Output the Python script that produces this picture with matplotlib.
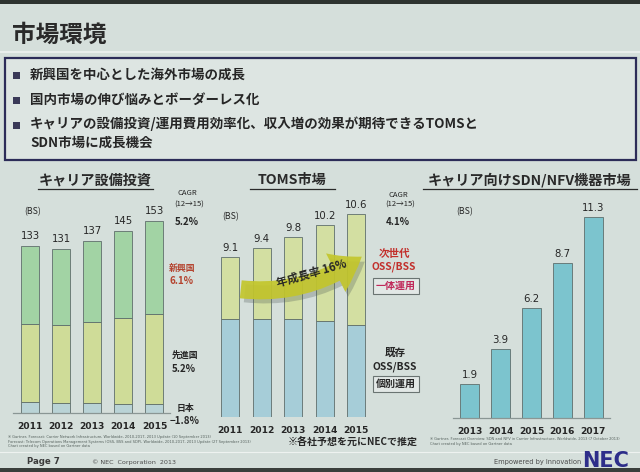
import matplotlib
matplotlib.use("Agg")
import matplotlib.pyplot as plt
from matplotlib.patches import Rectangle, FancyArrowPatch
import numpy as np

plt.rcParams['font.family'] = ['Noto Sans CJK JP', 'DejaVu Sans']

# ---------------- data ----------------
capex_years = ["2011", "2012", "2013", "2014", "2015"]
capex_total = [133, 131, 137, 145, 153]
capex_japan = [8.5, 8.2, 7.7, 7.2, 6.9]
capex_developed = [62.2, 61.6, 64.5, 68.3, 71.7]
capex_emerging = [62.3, 61.2, 64.8, 69.5, 74.4]

toms_years = ["2011", "2012", "2013", "2014", "2015"]
toms_total = [9.1, 9.4, 9.8, 10.2, 10.6]
toms_existing = [6.9, 6.9, 6.9, 6.85, 6.7]
toms_nextgen = [2.2, 2.5, 2.9, 3.35, 3.9]

sdn_years = ["2013", "2014", "2015", "2016", "2017"]
sdn_values = [1.9, 3.9, 6.2, 8.7, 11.3]

bullets = ["新興国を中心とした海外市場の成長",
           "国内市場の伸び悩みとボーダーレス化",
           "キャリアの設備投資/運用費用効率化、収入増の効果が期待できるTOMSと\nSDN市場に成長機会"]

# ---------------- style ----------------
BG = "#d5dfdb"
TXT = "#262626"
EDGE = "#5f6e6c"
W, H = 640, 472

fig = plt.figure(figsize=(6.4, 4.72), dpi=100, facecolor=BG)

def fx(px):
    return px / W

def fy(py):
    return 1 - py / H

def rect(x0, x1, ytop, ybot):
    return [fx(x0), fy(ybot), (x1 - x0) / W, (ybot - ytop) / H]

def ftext(px, py, s, **kw):
    kw.setdefault("color", TXT)
    kw.setdefault("ha", "center")
    kw.setdefault("va", "center")
    return fig.text(fx(px), fy(py), s, **kw)

# photo edges
fig.patches.append(Rectangle((0, fy(4)), 1, 4 / H, transform=fig.transFigure,
                             facecolor="#2e3330", edgecolor="none", zorder=0))
fig.patches.append(Rectangle((0, 0), 1, 4 / H, transform=fig.transFigure,
                             facecolor="#3a3f3c", edgecolor="none", zorder=0))

# title
ftext(12, 35, "市場環境", ha="left", fontsize=17, fontweight="bold", color="#2a2a2a")
fig.add_artist(plt.Line2D([0, 1], [fy(52), fy(52)], color="#eef2f0", lw=1.2,
                          transform=fig.transFigure))

# bullet box
fig.patches.append(Rectangle((fx(5), fy(160)), fx(636) - fx(5), (160 - 58) / H,
                             transform=fig.transFigure, facecolor="#dde5e2",
                             edgecolor="#2c2c58", lw=1.6, zorder=1))
bullet_y = [75, 100, 125]
for yb, s in zip(bullet_y, bullets):
    fig.patches.append(Rectangle((fx(13), fy(yb + 3.5)), 7 / W, 7 / H,
                                 transform=fig.transFigure, facecolor="#3a3a58",
                                 edgecolor="none", zorder=2))
    if "\n" in s:
        ftext(30, yb - 9, s, ha="left", va="top", fontsize=9.7, fontweight="bold",
              linespacing=1.45, zorder=3)
    else:
        ftext(30, yb, s, ha="left", fontsize=9.7, fontweight="bold", zorder=3)

# ---------------- chart 1: carrier capex ----------------
ax1 = fig.add_axes(rect(13, 170, 200, 413))
x = np.arange(len(capex_years))
bw = 0.58
ax1.bar(x, capex_japan, bw, color="#b9d3d6", edgecolor=EDGE, lw=0.6)
ax1.bar(x, capex_developed, bw, bottom=capex_japan, color="#cfdc98", edgecolor=EDGE, lw=0.6)
b1 = np.array(capex_japan) + np.array(capex_developed)
ax1.bar(x, capex_emerging, bw, bottom=b1, color="#a2d3a4", edgecolor=EDGE, lw=0.6)
for i, v in enumerate(capex_total):
    ax1.annotate(str(v), (i, v), xytext=(0, 7), textcoords="offset points",
                 ha="center", va="center", fontsize=7.3, color=TXT,
                 family="DejaVu Sans")
ax1.set_xlim(-0.55, 4.5)
ax1.set_ylim(0, 213 / 1.255)

# ---------------- chart 2: TOMS ----------------
ax2 = fig.add_axes(rect(213, 372, 200, 417.3))
x2 = np.arange(len(toms_years))
ax2.bar(x2, toms_existing, bw, color="#a6cdd8", edgecolor=EDGE, lw=0.6)
ax2.bar(x2, toms_nextgen, bw, bottom=toms_existing, color="#d3dfa2", edgecolor=EDGE, lw=0.6)
for i, v in enumerate(toms_total):
    ax2.annotate(f"{v:.1f}", (i, v), xytext=(0, 6.5), textcoords="offset points",
                 ha="center", va="center", fontsize=7.3, color=TXT,
                 family="DejaVu Sans")
ax2.set_xlim(-0.55, 4.5)
ax2.set_ylim(3.46, 3.46 + 217.3 / 28.5)

# ---------------- chart 3: SDN/NFV ----------------
ax3 = fig.add_axes(rect(453, 610, 200, 418.3))
x3 = np.arange(len(sdn_years))
ax3.bar(x3, sdn_values, 0.62, color="#7cc4ce", edgecolor=EDGE, lw=0.6)
for i, v in enumerate(sdn_values):
    ax3.annotate(f"{v:.1f}", (i, v), xytext=(0, 6.5), textcoords="offset points",
                 ha="center", va="center", fontsize=7.3, color=TXT,
                 family="DejaVu Sans")
ax3.set_xlim(-0.55, 4.55)
ax3.set_ylim(0, 218.3 / 17.8)

for ax, yrs, base_line in ((ax1, capex_years, True), (ax2, toms_years, False), (ax3, sdn_years, True)):
    ax.set_facecolor("none")
    for s in ax.spines.values():
        s.set_visible(False)
    ax.set_yticks([])
    ax.set_xticks([])
    if base_line:
        ax.axhline(ax.get_ylim()[0], color="#8a9694", lw=0.9, clip_on=False)
    for i, yl in enumerate(yrs):
        ax.annotate(yl, (i, 0), xycoords=("data", "axes fraction"), xytext=(0, -9.5),
                    textcoords="offset points", ha="center", va="center",
                    fontsize=6.6, fontweight="bold", color=TXT, family="DejaVu Sans")

# growth arrow on chart 2
shadow = FancyArrowPatch((fx(242), fy(293)), (fx(367), fy(260)), transform=fig.transFigure,
                         arrowstyle="simple,head_width=31,head_length=22,tail_width=13",
                         connectionstyle="arc3,rad=0.2", mutation_scale=1,
                         facecolor="#55605a", edgecolor="none", alpha=0.3, zorder=5)
fig.patches.append(shadow)
arrow = FancyArrowPatch((fx(238), fy(289)), (fx(364), fy(255)), transform=fig.transFigure,
                        arrowstyle="simple,head_width=31,head_length=22,tail_width=13",
                        connectionstyle="arc3,rad=0.2", mutation_scale=1,
                        facecolor="#c3c62c", edgecolor="none", alpha=0.92, zorder=6)
fig.patches.append(arrow)
ftext(312, 273, "年成長率 16%", fontsize=8.2, fontweight="bold", rotation=16, zorder=7)

# chart titles
for (cx, cy, s, x0, x1) in ((95, 181, "キャリア設備投資", 38, 153),
                            (292, 180, "TOMS市場", 250, 335),
                            (530, 180, "キャリア向けSDN/NFV機器市場", 423, 637)):
    ftext(cx, cy, s, fontsize=10.2, fontweight="bold", color="#2a2a2a")
    fig.add_artist(plt.Line2D([fx(x0), fx(x1)], [fy(189), fy(189)], color="#2a2a2a",
                              lw=0.9, transform=fig.transFigure))

# units
ftext(33, 212, "(BS)", fontsize=6.3)
ftext(231, 217, "(BS)", fontsize=6.3)
ftext(465, 212, "(BS)", fontsize=6.3)

# chart 1 side labels
ftext(187, 193, "CAGR", fontsize=5.5)
ftext(189, 205, "(12→15)", fontsize=5.5)
ftext(187, 222, "5.2%", fontsize=7, fontweight="bold")
ftext(182, 268, "新興国", fontsize=6.4, fontweight="bold", color="#b4432e")
ftext(182, 281, "6.1%", fontsize=7, fontweight="bold", color="#b4432e")
ftext(185, 355, "先進国", fontsize=6.4, fontweight="bold")
ftext(184, 369, "5.2%", fontsize=7, fontweight="bold")
ftext(186, 408, "日本", fontsize=6.4, fontweight="bold")
ftext(185, 421, "\u22121.8%", fontsize=7, fontweight="bold")

# chart 2 side labels
ftext(398, 195, "CAGR", fontsize=5.5)
ftext(400, 205, "(12→15)", fontsize=5.5)
ftext(398, 222, "4.1%", fontsize=7, fontweight="bold")
ftext(394, 254, "次世代", fontsize=7.6, fontweight="bold", color="#c2302c")
ftext(394, 267, "OSS/BSS", fontsize=7.4, fontweight="bold", color="#c2302c")
ftext(396, 286, "一体運用", fontsize=7.2, fontweight="bold", color="#c0285a",
      bbox=dict(boxstyle="square,pad=0.3", facecolor="#e2e8e6", edgecolor="#6a7472", lw=0.8))
ftext(395, 353, "既存", fontsize=7.6, fontweight="bold")
ftext(395, 367, "OSS/BSS", fontsize=7.4, fontweight="bold")
ftext(396, 384, "個別運用", fontsize=7.2, fontweight="bold",
      bbox=dict(boxstyle="square,pad=0.3", facecolor="#e2e8e6", edgecolor="#6a7472", lw=0.8))

# footnotes
ftext(8, 435, "※ Gartner, Forecast: Carrier Network Infrastructure, Worldwide, 2010-2017, 2013 Update (10 September 2013)\n"
      "Forecast: Telecom Operations Management Systems (OSS, BSS and SDP), Worldwide, 2010-2017, 2013 Update (27 September 2013)\n"
      "Chart created by NEC based on Gartner data", ha="left", va="top", fontsize=2.6, color="#55605c",
      family="DejaVu Sans", linespacing=1.2)
ftext(353, 442, "※各社予想を元にNECで推定", fontsize=7.2, fontweight="bold")
ftext(430, 437, "※ Gartner, Forecast Overview: SDN and NFV in Carrier Infrastructure, Worldwide, 2013 (7 October 2013)\n"
      "Chart created by NEC based on Gartner data", ha="left", va="top", fontsize=2.6, color="#55605c",
      family="DejaVu Sans", linespacing=1.2)

# footer
fig.add_artist(plt.Line2D([0, 1], [fy(452), fy(452)], color="#eef2f0", lw=0.8,
                          transform=fig.transFigure))
ftext(27, 462, "Page 7", ha="left", fontsize=6.2, fontweight="bold", color="#3a3a3a", family="DejaVu Sans")
ftext(92, 462, "© NEC  Corporation  2013", ha="left", fontsize=4.6, color="#4a4a4a", family="DejaVu Sans")
ftext(494, 462, "Empowered by Innovation", ha="left", fontsize=4.8, color="#4a4a4a", family="DejaVu Sans")
ftext(606, 461, "NEC", fontsize=15, fontweight="bold", color="#2e2e8a", family="DejaVu Sans")

fig.savefig("out.png", dpi=100, facecolor=BG)
